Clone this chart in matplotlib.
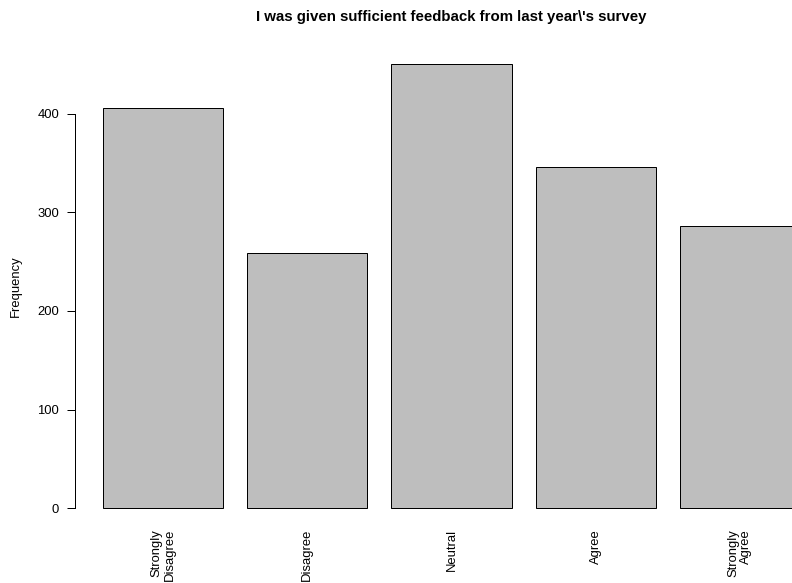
import matplotlib
matplotlib.use("Agg")
import matplotlib.pyplot as plt

categories = ["Strongly\nDisagree", "Disagree", "Neutral", "Agree", "Strongly\nAgree"]
frequency = [406, 259, 451, 346, 286]
yticks = [0, 100, 200, 300, 400]
title = "I was given sufficient feedback from last year\\'s survey"

plt.rcParams['font.family'] = ['Liberation Sans', 'DejaVu Sans']

W, H = 792, 583
fig = plt.figure(figsize=(W / 72, H / 72), dpi=72)

# R style plot region in pixels; its right edge (828) runs past the figure,
# so the axes stops at the figure edge and xlim is cut to match
left, right_full, top, bottom = 75, 828, 45.9, 525.8
right = W
ax = fig.add_axes([left / W, 1 - bottom / H, (right - left) / W, (bottom - top) / H])

# barplot layout: width 1, space 0.2
centers = [0.7 + 1.2 * i for i in range(len(frequency))]
ax.bar(centers, frequency, width=1.0, color="#bebebe", edgecolor="black", linewidth=1.0)

x0, x1 = 0.2, 0.2 + 1.2 * (len(frequency) - 1) + 1.0
lo, hi = x0 - 0.04 * (x1 - x0), x1 + 0.04 * (x1 - x0)
px_per_unit = (right_full - left) / (hi - lo)
ax.set_xlim(lo, lo + (right - left) / px_per_unit)
ymax = max(frequency)
ax.set_ylim(-0.04 * ymax, ymax * 1.04)

for s in ["top", "right", "bottom"]:
    ax.spines[s].set_visible(False)
ax.spines["left"].set_bounds(0, 400)
ax.spines["left"].set_linewidth(1.0)

ax.set_yticks(yticks)
ax.set_yticklabels([str(v) for v in yticks], fontsize=13)
ax.tick_params(axis="y", length=8, width=1.0, pad=8, direction="out")

ax.set_xticks(centers)
ax.set_xticklabels(categories, rotation=90, fontsize=13, va="top", ha="center",
                   multialignment="right", linespacing=1.1)
ax.tick_params(axis="x", length=0, pad=3)

fig.text(16 / W, 1 - (top + bottom) / 2 / H, "Frequency", rotation=90,
         ha="center", va="center", fontsize=13)

fig.text((left + right_full) / 2 / W, 1 - 17 / H, title, ha="center", va="center",
         fontsize=15, fontweight="bold")

fig.savefig("out.png", dpi=72)
